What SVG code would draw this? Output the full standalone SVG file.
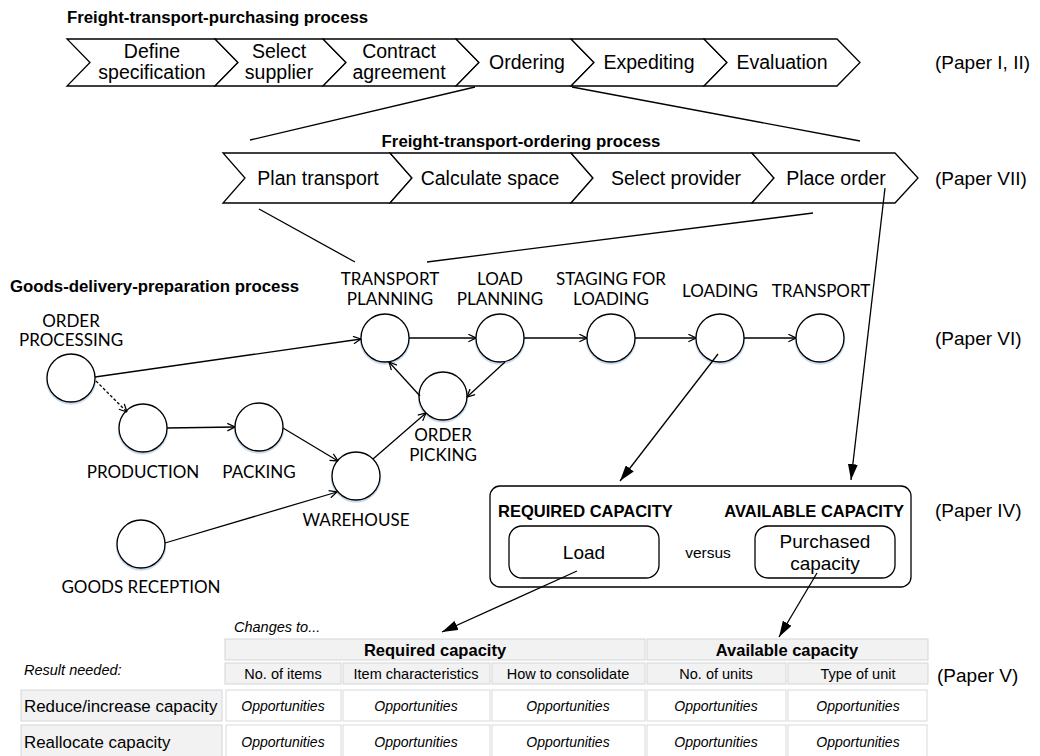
<svg xmlns="http://www.w3.org/2000/svg" width="1040" height="756" viewBox="0 0 1040 756">
  <style>
    .title { font-family: "Liberation Sans", Arial, sans-serif; font-weight: bold; font-size: 16.8px; fill: #000; }
    .chev { fill: #fff; stroke: #000; stroke-width: 1.3; stroke-linejoin: miter; }
    .ctext { font-family: "Liberation Sans", Arial, sans-serif; font-size: 19.5px; fill: #000; text-anchor: middle; }
    .paper { font-family: "Liberation Sans", Arial, sans-serif; font-size: 19px; fill: #000; }
    .node { fill: #fff; stroke: #000; stroke-width: 1.3; }
    .shadow { fill: none; stroke: #c9dcef; stroke-width: 2.5; }
    .nlabel { font-family: Lato, "Open Sans", sans-serif; font-size: 17px; fill: #000; text-anchor: middle; }
    .edge { fill: none; stroke: #000; stroke-width: 1.3; }
    .open { marker-end: url(#openArrow); }
    .solid { marker-end: url(#solidArrow); }
    .dotted { stroke-dasharray: 3 2; }
    .box { fill: #fff; stroke: #000; stroke-width: 1.3; }
    .bold { font-family: "Liberation Sans", Arial, sans-serif; font-weight: bold; font-size: 16.5px; fill: #000; }
    .btext { font-family: "Liberation Sans", Arial, sans-serif; font-size: 19px; fill: #000; text-anchor: middle; }
    .small { font-family: "Liberation Sans", Arial, sans-serif; font-size: 15.5px; fill: #000; text-anchor: middle; }
    .hcell { fill: #f2f2f2; stroke: #d3d6da; stroke-width: 1; }
    .dcell { fill: #fff; stroke: #d8dadd; stroke-width: 1; }
    .htext { font-family: "Liberation Sans", Arial, sans-serif; font-size: 14.5px; fill: #000; text-anchor: middle; }
    .hbold { font-family: "Liberation Sans", Arial, sans-serif; font-weight: bold; font-size: 16.5px; fill: #000; text-anchor: middle; }
    .opp { font-family: "Liberation Sans", Arial, sans-serif; font-style: italic; font-size: 14px; fill: #000; text-anchor: middle; }
    .rlabel { font-family: "Liberation Sans", Arial, sans-serif; font-size: 16.9px; fill: #000; }
    .ital { font-family: "Liberation Sans", Arial, sans-serif; font-style: italic; font-size: 14.5px; fill: #000; }
  </style>
  <defs>
    <marker id="openArrow" viewBox="0 0 10 10" refX="9.5" refY="5" markerWidth="9" markerHeight="9" markerUnits="userSpaceOnUse" orient="auto">
      <path d="M1,0.8 L9.5,5 L1,9.2" fill="none" stroke="#000" stroke-width="1.4"/>
    </marker>
    <marker id="solidArrow" viewBox="0 0 16 10" refX="16" refY="5" markerWidth="16" markerHeight="10" markerUnits="userSpaceOnUse" orient="auto">
      <path d="M0,0 L16,5 L0,10 z" fill="#000"/>
    </marker>
  </defs>

  <!-- Freight-transport-purchasing process -->
  <g id="purchasing">
    <text class="title" x="67" y="23">Freight-transport-purchasing process</text>
    <g id="p-define">
      <path class="chev" d="M67,39 L215,39 L238,62.5 L215,86 L67,86 L90,62.5 Z"/>
      <text class="ctext" x="152" y="58">Define</text>
      <text class="ctext" x="152" y="79">specification</text>
    </g>
    <g id="p-select">
      <path class="chev" d="M215,39 L323,39 L346,62.5 L323,86 L215,86 L238,62.5 Z"/>
      <text class="ctext" x="279" y="58">Select</text>
      <text class="ctext" x="279" y="79">supplier</text>
    </g>
    <g id="p-contract">
      <path class="chev" d="M323,39 L456,39 L479,62.5 L456,86 L323,86 L346,62.5 Z"/>
      <text class="ctext" x="399" y="58">Contract</text>
      <text class="ctext" x="399" y="79">agreement</text>
    </g>
    <g id="p-ordering">
      <path class="chev" d="M456,39 L571,39 L594,62.5 L571,86 L456,86 L479,62.5 Z"/>
      <text class="ctext" x="527" y="69">Ordering</text>
    </g>
    <g id="p-expediting">
      <path class="chev" d="M571,39 L704,39 L727,62.5 L704,86 L571,86 L594,62.5 Z"/>
      <text class="ctext" x="649" y="69">Expediting</text>
    </g>
    <g id="p-evaluation">
      <path class="chev" d="M704,39 L837,39 L860,62.5 L837,86 L704,86 L727,62.5 Z"/>
      <text class="ctext" x="782" y="69">Evaluation</text>
    </g>
    <text class="paper" x="935" y="69">(Paper I, II)</text>
  </g>

  <!-- Freight-transport-ordering process -->
  <g id="ordering">
    <text class="title" x="521" y="147" text-anchor="middle">Freight-transport-ordering process</text>
    <g id="o-plan">
      <path class="chev" d="M223,153 L390,153 L412,178 L390,203 L223,203 L245,178 Z"/>
      <text class="ctext" x="318" y="185">Plan transport</text>
    </g>
    <g id="o-calc">
      <path class="chev" d="M390,153 L571,153 L593,178 L571,203 L390,203 L412,178 Z"/>
      <text class="ctext" x="490" y="185">Calculate space</text>
    </g>
    <g id="o-select">
      <path class="chev" d="M571,153 L752,153 L774,178 L752,203 L571,203 L593,178 Z"/>
      <text class="ctext" x="676" y="185">Select provider</text>
    </g>
    <g id="o-place">
      <path class="chev" d="M752,153 L895,153 L918,178 L895,203 L752,203 L774,178 Z"/>
      <text class="ctext" x="836" y="185">Place order</text>
    </g>
    <text class="paper" x="935" y="185">(Paper VII)</text>
  </g>

  <!-- Goods-delivery-preparation process -->
  <text class="title" x="10" y="292">Goods-delivery-preparation process</text>
  <text class="paper" x="935" y="345">(Paper VI)</text>

  <g id="n-orderprocessing">
    <circle class="shadow" cx="71" cy="379.5" r="24"/>
    <circle class="node" cx="71" cy="378" r="24"/>
    <text class="nlabel" x="71" y="327">ORDER</text>
    <text class="nlabel" x="71" y="346">PROCESSING</text>
  </g>
  <g id="n-transportplanning">
    <circle class="shadow" cx="385" cy="339.5" r="24"/>
    <circle class="node" cx="385" cy="338" r="24"/>
    <text class="nlabel" x="390" y="285">TRANSPORT</text>
    <text class="nlabel" x="390" y="305">PLANNING</text>
  </g>
  <g id="n-loadplanning">
    <circle class="shadow" cx="500" cy="339.5" r="24"/>
    <circle class="node" cx="500" cy="338" r="24"/>
    <text class="nlabel" x="500" y="285">LOAD</text>
    <text class="nlabel" x="500" y="305">PLANNING</text>
  </g>
  <g id="n-staging">
    <circle class="shadow" cx="611" cy="339.5" r="24"/>
    <circle class="node" cx="611" cy="338" r="24"/>
    <text class="nlabel" x="611" y="285">STAGING FOR</text>
    <text class="nlabel" x="611" y="305">LOADING</text>
  </g>
  <g id="n-loading">
    <circle class="shadow" cx="720" cy="339.5" r="24"/>
    <circle class="node" cx="720" cy="338" r="24"/>
    <text class="nlabel" x="720" y="297">LOADING</text>
  </g>
  <g id="n-transport">
    <circle class="shadow" cx="820" cy="339.5" r="24"/>
    <circle class="node" cx="820" cy="338" r="24"/>
    <text class="nlabel" x="821" y="297">TRANSPORT</text>
  </g>
  <g id="n-orderpicking">
    <circle class="shadow" cx="443" cy="397.5" r="24"/>
    <circle class="node" cx="443" cy="396" r="24"/>
    <text class="nlabel" x="443" y="441">ORDER</text>
    <text class="nlabel" x="443" y="461">PICKING</text>
  </g>
  <g id="n-production">
    <circle class="shadow" cx="143" cy="429.5" r="24"/>
    <circle class="node" cx="143" cy="428" r="24"/>
    <text class="nlabel" x="143" y="478">PRODUCTION</text>
  </g>
  <g id="n-packing">
    <circle class="shadow" cx="259" cy="428.5" r="24"/>
    <circle class="node" cx="259" cy="427" r="24"/>
    <text class="nlabel" x="259" y="478">PACKING</text>
  </g>
  <g id="n-warehouse">
    <circle class="shadow" cx="356" cy="477.5" r="24"/>
    <circle class="node" cx="356" cy="476" r="24"/>
    <text class="nlabel" x="356" y="526">WAREHOUSE</text>
  </g>
  <g id="n-goodsreception">
    <circle class="shadow" cx="141" cy="545.5" r="24"/>
    <circle class="node" cx="141" cy="544" r="24"/>
    <text class="nlabel" x="141" y="593">GOODS RECEPTION</text>
  </g>

  <!-- Capacity comparison -->
  <g id="capacity">
    <rect class="box" x="490" y="486" width="421" height="101" rx="10"/>
    <text class="bold" x="498" y="517">REQUIRED CAPACITY</text>
    <text class="bold" x="904" y="517" text-anchor="end">AVAILABLE CAPACITY</text>
    <g id="c-load">
      <rect class="box" x="509" y="526" width="150" height="52" rx="13"/>
      <text class="btext" x="584" y="559">Load</text>
    </g>
    <text class="small" x="708" y="558">versus</text>
    <g id="c-purchased">
      <rect class="box" x="755" y="526" width="140" height="52" rx="13"/>
      <text class="btext" x="825" y="548">Purchased</text>
      <text class="btext" x="825" y="570">capacity</text>
    </g>
    <text class="paper" x="935" y="517">(Paper IV)</text>
  </g>

  <!-- Changes table -->
  <g id="table">
    <text class="ital" x="234" y="632">Changes to...</text>
    <text class="ital" x="24" y="675">Result needed:</text>
    <rect class="hcell" x="225" y="639" width="420" height="21"/>
    <text class="hbold" x="435" y="656">Required capacity</text>
    <rect class="hcell" x="647" y="639" width="281" height="21"/>
    <text class="hbold" x="787" y="656">Available capacity</text>

    <rect class="hcell" x="225" y="663" width="116" height="21"/>
    <text class="htext" x="283" y="679">No. of items</text>
    <rect class="hcell" x="343" y="663" width="147" height="21"/>
    <text class="htext" x="416" y="679">Item characteristics</text>
    <rect class="hcell" x="492" y="663" width="153" height="21"/>
    <text class="htext" x="568" y="679">How to consolidate</text>
    <rect class="hcell" x="647" y="663" width="139" height="21"/>
    <text class="htext" x="716" y="679">No. of units</text>
    <rect class="hcell" x="788" y="663" width="140" height="21"/>
    <text class="htext" x="858" y="679">Type of unit</text>

    <rect class="hcell" x="21" y="690" width="201" height="31"/>
    <text class="rlabel" x="24" y="712">Reduce/increase capacity</text>
    <rect class="dcell" x="226" y="690" width="115" height="31"/>
    <text class="opp" x="283" y="711">Opportunities</text>
    <rect class="dcell" x="343" y="690" width="147" height="31"/>
    <text class="opp" x="416" y="711">Opportunities</text>
    <rect class="dcell" x="492" y="690" width="153" height="31"/>
    <text class="opp" x="568" y="711">Opportunities</text>
    <rect class="dcell" x="647" y="690" width="139" height="31"/>
    <text class="opp" x="716" y="711">Opportunities</text>
    <rect class="dcell" x="788" y="690" width="139" height="31"/>
    <text class="opp" x="858" y="711">Opportunities</text>

    <rect class="hcell" x="21" y="725" width="201" height="33"/>
    <text class="rlabel" x="24" y="748">Reallocate capacity</text>
    <rect class="dcell" x="226" y="725" width="115" height="33"/>
    <text class="opp" x="283" y="747">Opportunities</text>
    <rect class="dcell" x="343" y="725" width="147" height="33"/>
    <text class="opp" x="416" y="747">Opportunities</text>
    <rect class="dcell" x="492" y="725" width="153" height="33"/>
    <text class="opp" x="568" y="747">Opportunities</text>
    <rect class="dcell" x="647" y="725" width="139" height="33"/>
    <text class="opp" x="716" y="747">Opportunities</text>
    <rect class="dcell" x="788" y="725" width="139" height="33"/>
    <text class="opp" x="858" y="747">Opportunities</text>
    <text class="paper" x="937" y="682">(Paper V)</text>
  </g>

  <!-- Connectors -->
  <g id="connectors">
    <line class="edge" x1="475" y1="87" x2="250" y2="140"/>
    <line class="edge" x1="572" y1="87" x2="860" y2="141"/>
    <line class="edge" x1="259" y1="209" x2="355" y2="262"/>
    <line class="edge" x1="427" y1="262" x2="813" y2="213"/>

    <line class="edge open" x1="95" y1="377" x2="361" y2="339"/>
    <line class="edge open dotted" x1="96" y1="381" x2="127" y2="412"/>
    <line class="edge open" x1="167" y1="428" x2="235" y2="427"/>
    <line class="edge open" x1="283" y1="428" x2="338" y2="461"/>
    <line class="edge open" x1="165" y1="543" x2="337" y2="492"/>
    <line class="edge open" x1="373" y1="459" x2="426" y2="413"/>
    <line class="edge open" x1="420" y1="396" x2="389" y2="362"/>
    <line class="edge open" x1="505" y1="362" x2="467" y2="397"/>
    <line class="edge open" x1="409" y1="338" x2="476" y2="338"/>
    <line class="edge open" x1="524" y1="338" x2="587" y2="338"/>
    <line class="edge open" x1="635" y1="338" x2="696" y2="338"/>
    <line class="edge open" x1="744" y1="338" x2="796" y2="338"/>

    <line class="edge solid" x1="718" y1="354" x2="620" y2="481"/>
    <line class="edge solid" x1="885" y1="188" x2="851" y2="480"/>
    <line class="edge solid" x1="577" y1="571" x2="442" y2="632"/>
    <line class="edge solid" x1="817" y1="573" x2="779" y2="637"/>
  </g>
</svg>
